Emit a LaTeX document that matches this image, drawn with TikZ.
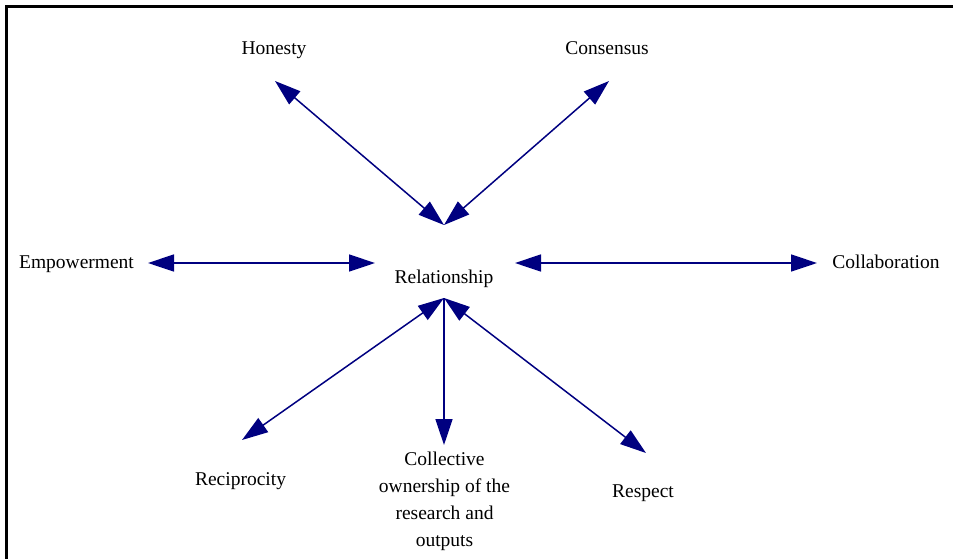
\documentclass[tikz,border=0pt]{standalone}
\usepackage{fontspec}
\setmainfont{Liberation Serif}
\usetikzlibrary{arrows.meta}
\definecolor{arrnavy}{RGB}{0,0,128}
\begin{document}
\begin{tikzpicture}[x=1pt,y=-1pt,
  lbl/.style={anchor=base,inner sep=0pt,font=\fontsize{19.5}{27}\selectfont,text=black},
  conn/.style={draw=arrnavy,line width=1.5pt,{Triangle[length=26pt,width=17pt]}-{Triangle[length=26pt,width=17pt]}},
  oneway/.style={draw=arrnavy,line width=1.5pt,-{Triangle[length=26pt,width=17pt]}}]
\useasboundingbox (0,0) rectangle (953,558);
\draw[line width=3pt] (6.5,565) -- (6.5,6.5) -- (960,6.5);
% labels
\node[lbl] (hon) at (274,54) {Honesty};
\node[lbl] (con) at (607,54) {Consensus};
\node[lbl] (emp) at (76.5,268) {Empowerment};
\node[lbl] (rel) at (444,283) {Relationship};
\node[lbl] (col) at (886,268) {Collaboration};
\node[lbl] (rec) at (240.5,485) {Reciprocity};
\node[lbl,align=center,anchor=north] (own) at (444.5,452) {Collective\\ownership of the\\research and\\outputs};
\node[lbl] (res) at (643,497) {Respect};
% arrow end points
\coordinate (hT) at (275,81);
\coordinate (cT) at (609,81);
\coordinate (rTop) at (444,225);
\coordinate (eT) at (148,263);
\coordinate (rL) at (375,263);
\coordinate (rR) at (515,263);
\coordinate (oT) at (817,263);
\coordinate (rBot) at (444,298);
\coordinate (recT) at (242,440);
\coordinate (ownT) at (444,445);
\coordinate (resT) at (646,453);
% connectors
\draw[conn] (hT) -- (rTop);
\draw[conn] (cT) -- (rTop);
\draw[conn] (eT) -- (rL);
\draw[conn] (rR) -- (oT);
\draw[conn] (rBot) -- (recT);
\draw[oneway] (rBot) -- (ownT);
\draw[conn] (rBot) -- (resT);
\end{tikzpicture}
\end{document}
